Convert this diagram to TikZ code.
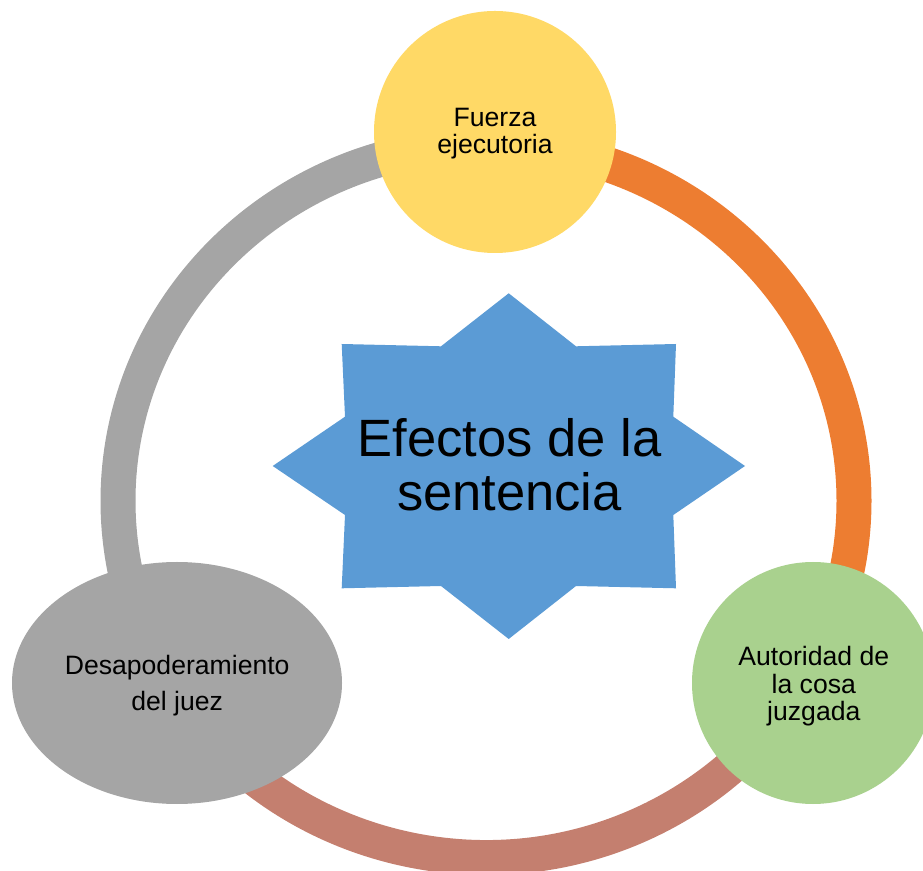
\documentclass[tikz,border=0pt]{standalone}
\usepackage{fontspec}
\setmainfont{Liberation Sans}
\usetikzlibrary{shapes.geometric}
\definecolor{cyellow}{HTML}{FFD966}
\definecolor{corange}{HTML}{ED7D31}
\definecolor{cgray}{HTML}{A5A5A5}
\definecolor{cgreen}{HTML}{A9D18E}
\definecolor{cbrown}{HTML}{C47F6F}
\definecolor{cblue}{HTML}{5B9BD5}
\tikzset{
  ringarc/.style={line width=35pt, line cap=butt},
  smalltxt/.style={anchor=base, align=center, inner sep=0pt, font=\fontsize{26.6}{27.6}\selectfont},
  bigtxt/.style={anchor=base, align=center, inner sep=0pt, font=\fontsize{52.5}{54}\selectfont},
  effect/.style={draw=none, inner sep=0pt}
}
\begin{document}
\begin{tikzpicture}[x=1pt,y=1pt]
\useasboundingbox (0,0) rectangle (923,870);
\clip (0,0) rectangle (923,870);
\coordinate (ringc) at (486,369);
% ring segments
\draw[ringarc, cgray] ([shift={(90:368pt and 356.5pt)}]ringc) arc[start angle=90, end angle=210, x radius=368pt, y radius=356.5pt];
\draw[ringarc, corange] ([shift={(90:368pt and 356.5pt)}]ringc) arc[start angle=90, end angle=-30, x radius=368pt, y radius=356.5pt];
\draw[ringarc, cbrown] ([shift={(210:368pt and 356.5pt)}]ringc) arc[start angle=210, end angle=330, x radius=368pt, y radius=356.5pt];
% star
\fill[cblue] (508.7,576.7) -- (576,523.7) -- (676,526) -- (673.3,453.3) -- (745,404)
  -- (673.3,355) -- (676,281.7) -- (576,284) -- (508.7,231) -- (441,284)
  -- (341.7,281.7) -- (345,355) -- (272.7,404) -- (345,453.3) -- (341.7,526)
  -- (441,523.7) -- cycle;
\node[bigtxt] (star) at (509.5,359.3) {Efectos de la\\sentencia};
% effect nodes
\node[effect, circle, fill=cyellow, minimum size=242pt] (fuerza) at (495,738) {};
\node[effect, circle, fill=cgreen, minimum size=242pt] (autoridad) at (813,187) {};
\node[effect, ellipse, fill=cgray, minimum width=330pt, minimum height=242pt] (desap) at (177,187) {};
\node[smalltxt] (tfuerza) at (495,716) {Fuerza\\ejecutoria};
\node[smalltxt] (tautoridad) at (813.8,149.3) {Autoridad de\\la cosa\\juzgada};
\node[smalltxt, font=\fontsize{26.6}{36.4}\selectfont] (tdesap) at (177.2,159.3) {Desapoderamiento\\del juez};
\end{tikzpicture}
\end{document}
